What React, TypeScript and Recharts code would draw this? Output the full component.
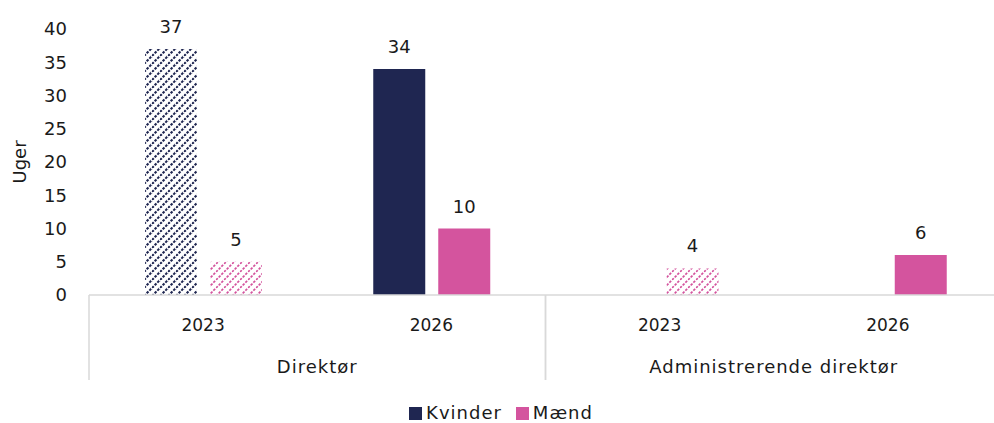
import { BarChart, Bar, XAxis, YAxis, Cell, LabelList, Legend, Label } from "recharts";

const years = ["2023", "2026", "2023", "2026"];
const groups = ["Direktør", "Direktør", "Administrerende direktør", "Administrerende direktør"];
const kvinder: (number | null)[] = [37, 34, null, null];
const maend: (number | null)[] = [5, 10, 4, 6];
const hatched = [true, false, true, false];
const yTicks = [0, 5, 10, 15, 20, 25, 30, 35, 40];

const NAVY = "#1F2651";
const PINK = "#D4549E";
const TEXT = "#1a1a1a";
const GRID = "#d9d9d9";
const FONT = "'DejaVu Sans', sans-serif";
const WORD_SPACING = 1;

const data = years.map((y, i) => ({
  key: `${groups[i]}-${y}`,
  year: y,
  group: groups[i],
  kvinder: kvinder[i],
  maend: maend[i],
  hatched: hatched[i],
}));

const CHART_W = 1002;
const Y_W = 89;
const SLOT = (CHART_W - Y_W) / data.length;

function CatTick(props: any) {
  const { x, y, index } = props;
  const first = index === 0 || data[index - 1].group !== data[index].group;
  const last = index === data.length - 1 || data[index + 1].group !== data[index].group;
  return (
    <g>
      <text x={x} y={y + 36} textAnchor="middle" fill={TEXT} fontSize={17} fontFamily={FONT}>
        {data[index].year}
      </text>
      {first && (
        <>
          <line x1={x - SLOT / 2} x2={x - SLOT / 2} y1={y} y2={y + 85} stroke={GRID} strokeWidth={1.5} />
          <text x={x + SLOT / 2} y={y + 78} textAnchor="middle" fill={TEXT} fontSize={18} fontFamily={FONT} letterSpacing={WORD_SPACING}>
            {data[index].group}
          </text>
        </>
      )}
      {last && (
        <line x1={x + SLOT / 2} x2={x + SLOT / 2} y1={y} y2={y + 85} stroke={GRID} strokeWidth={1.5} />
      )}
    </g>
  );
}

function ValueLabel(props: any) {
  const { x, y, width, value } = props;
  if (value == null) return null;
  return (
    <text x={x + width / 2} y={y - 16} textAnchor="middle" fill={TEXT} fontSize={18} fontFamily={FONT}>
      {value}
    </text>
  );
}

function AxisTitle(props: any) {
  const { viewBox } = props;
  const cx = viewBox.x + 19;
  const cy = viewBox.y + viewBox.height / 2;
  return (
    <text x={cx} y={cy} transform={`rotate(-90 ${cx} ${cy})`} textAnchor="middle" dominantBaseline="central" fill={TEXT} fontSize={18} fontFamily={FONT}>
      Uger
    </text>
  );
}

function LegendBox() {
  const items = [
    { name: "Kvinder", color: NAVY },
    { name: "Mænd", color: PINK },
  ];
  return (
    <div style={{ display: "flex", justifyContent: "center", gap: 14, paddingTop: 18, fontFamily: FONT, fontSize: 18, letterSpacing: WORD_SPACING, color: TEXT, lineHeight: "20px" }}>
      {items.map((it) => (
        <div key={it.name} style={{ display: "flex", alignItems: "center", gap: 4 }}>
          <span style={{ width: 13, height: 13, background: it.color, display: "inline-block" }} />
          {it.name}
        </div>
      ))}
    </div>
  );
}

export default function App() {
  return (
    <div style={{ position: "absolute", left: 0, top: 0, width: 994, height: 423, overflow: "hidden", background: "#fff" }}>
      <svg width={0} height={0} style={{ position: "absolute" }}>
        <defs>
          <pattern id="hatchK" patternUnits="userSpaceOnUse" width={8} height={8}>
            <rect width={8} height={8} fill="#fff" />
            <path d="M-2,2 l4,-4 M0,8 l8,-8 M6,10 l4,-4" stroke={NAVY} strokeWidth={2.1} strokeDasharray="2.5 1.3" />
          </pattern>
          <pattern id="hatchM" patternUnits="userSpaceOnUse" width={8} height={8}>
            <rect width={8} height={8} fill="#fff" />
            <path d="M-2,2 l4,-4 M0,8 l8,-8 M6,10 l4,-4" stroke={PINK} strokeWidth={1.7} strokeDasharray="2.5 1.3" />
          </pattern>
        </defs>
      </svg>
      <BarChart width={CHART_W} height={423} data={data} margin={{ top: 29, right: 0, bottom: 0, left: 0 }} barSize={52} barGap={13}>
        <XAxis
          dataKey="key"
          height={90}
          tickLine={false}
          tickSize={0}
          tickMargin={0}
          interval={0}
          axisLine={{ stroke: GRID, strokeWidth: 1.5 }}
          tick={<CatTick />}
        />
        <YAxis
          width={Y_W}
          domain={[0, 40]}
          ticks={yTicks}
          axisLine={false}
          tickLine={false}
          tickMargin={16}
          tick={{ fill: TEXT, fontSize: 18, fontFamily: FONT }}
        >
          <Label content={<AxisTitle />} />
        </YAxis>
        <Legend verticalAlign="bottom" wrapperStyle={{ height: 38 }} content={<LegendBox />} />
        <Bar dataKey="kvinder" name="Kvinder" fill={NAVY} isAnimationActive={false}>
          {data.map((d) => (
            <Cell key={d.key} fill={d.hatched ? "url(#hatchK)" : NAVY} />
          ))}
          <LabelList dataKey="kvinder" content={<ValueLabel />} />
        </Bar>
        <Bar dataKey="maend" name="Mænd" fill={PINK} isAnimationActive={false}>
          {data.map((d) => (
            <Cell key={d.key} fill={d.hatched ? "url(#hatchM)" : PINK} />
          ))}
          <LabelList dataKey="maend" content={<ValueLabel />} />
        </Bar>
      </BarChart>
    </div>
  );
}
